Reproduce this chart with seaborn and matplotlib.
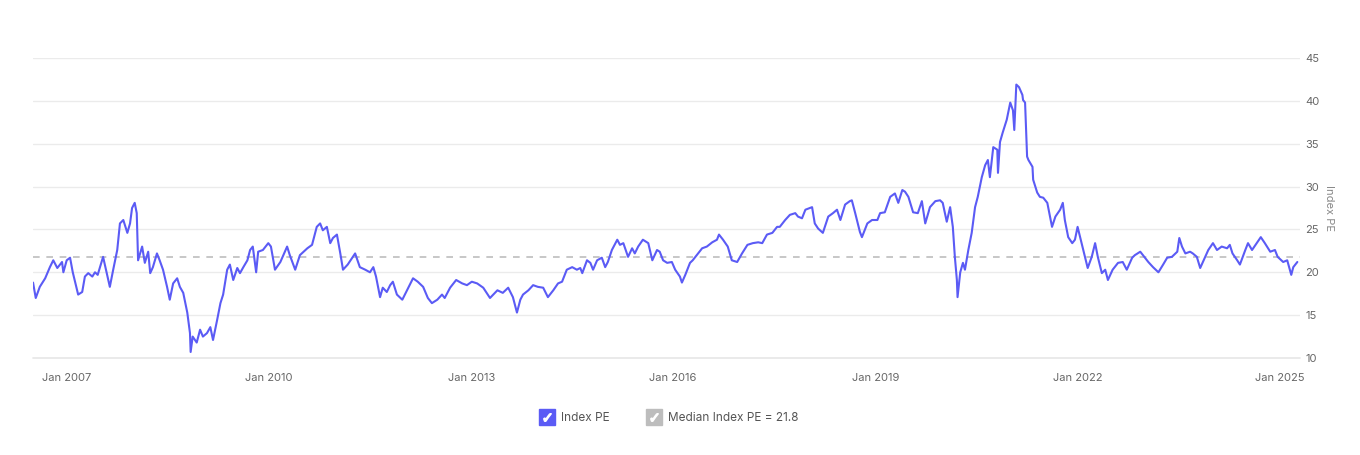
import numpy as np
import pandas as pd
import matplotlib
matplotlib.use('Agg')
import matplotlib.pyplot as plt
import matplotlib.dates as mdates
from matplotlib.lines import Line2D
from matplotlib.legend_handler import HandlerTuple
import seaborn as sns

# decimal year of each reading and the index PE
year_frac = [
    2006.50, 2006.54, 2006.60, 2006.68, 2006.75, 2006.80, 2006.86, 2006.93, 2006.95, 2007.00,
    2007.05, 2007.09, 2007.17, 2007.23, 2007.27, 2007.32, 2007.38, 2007.42, 2007.46, 2007.54,
    2007.60, 2007.64, 2007.69, 2007.75, 2007.79, 2007.84, 2007.90, 2007.94, 2007.97, 2008.01,
    2008.04, 2008.06, 2008.12, 2008.16, 2008.21, 2008.24, 2008.28, 2008.34, 2008.38, 2008.43,
    2008.49, 2008.53, 2008.58, 2008.64, 2008.68, 2008.73, 2008.79, 2008.83, 2008.84, 2008.87,
    2008.93, 2008.98, 2009.02, 2009.08, 2009.13, 2009.17, 2009.23, 2009.28, 2009.32, 2009.38,
    2009.42, 2009.47, 2009.53, 2009.57, 2009.62, 2009.68,
    2009.72, 2009.76, 2009.81, 2009.84, 2009.91, 2009.99, 2010.03, 2010.09, 2010.17, 2010.27,
    2010.31, 2010.39, 2010.46, 2010.57, 2010.64, 2010.67, 2010.71, 2010.76, 2010.80, 2010.86,
    2010.91, 2010.95, 2011.01, 2011.06, 2011.10, 2011.17, 2011.28, 2011.35, 2011.43, 2011.50,
    2011.55, 2011.59, 2011.65, 2011.69, 2011.75, 2011.80, 2011.84, 2011.90, 2011.98, 2012.05,
    2012.14, 2012.21, 2012.29, 2012.36, 2012.42, 2012.50, 2012.57, 2012.61, 2012.69, 2012.78,
    2012.87, 2012.94, 2013.01, 2013.09, 2013.18, 2013.28, 2013.39, 2013.47, 2013.55, 2013.62,
    2013.68,
    2013.73, 2013.77, 2013.85, 2013.92, 2013.99, 2014.07, 2014.14, 2014.22, 2014.29, 2014.35,
    2014.42, 2014.50, 2014.57, 2014.62, 2014.65, 2014.72, 2014.77, 2014.81, 2014.87, 2014.94,
    2014.99, 2015.03, 2015.09, 2015.17, 2015.21, 2015.26, 2015.33, 2015.39, 2015.43, 2015.48,
    2015.55, 2015.63, 2015.69, 2015.76, 2015.80, 2015.85, 2015.91, 2015.98, 2016.03, 2016.10,
    2016.13, 2016.18, 2016.25, 2016.29, 2016.37, 2016.43, 2016.50, 2016.58, 2016.65, 2016.68,
    2016.74, 2016.81, 2016.87, 2016.95, 2017.02, 2017.10, 2017.18, 2017.26, 2017.32, 2017.39,
    2017.47, 2017.54,
    2017.58, 2017.66, 2017.73, 2017.81, 2017.85, 2017.91, 2017.96, 2018.03, 2018.06, 2018.10,
    2018.15, 2018.22, 2018.30, 2018.37, 2018.43, 2018.48, 2018.55, 2018.62, 2018.65, 2018.70,
    2018.77, 2018.80, 2018.88, 2018.95, 2019.03, 2019.07, 2019.14, 2019.22, 2019.29, 2019.34,
    2019.40, 2019.44, 2019.49, 2019.56, 2019.63, 2019.69, 2019.74, 2019.81, 2019.89, 2019.96,
    2020.00,
    2020.06, 2020.11, 2020.15, 2020.18, 2020.21, 2020.22, 2020.26, 2020.30, 2020.33, 2020.38,
    2020.43, 2020.48, 2020.52, 2020.58, 2020.63, 2020.67, 2020.70, 2020.75, 2020.81, 2020.82,
    2020.85, 2020.89, 2020.95, 2021.00, 2021.04, 2021.06, 2021.09, 2021.13, 2021.18, 2021.19,
    2021.22, 2021.25, 2021.27, 2021.33, 2021.34, 2021.40, 2021.44, 2021.49, 2021.55, 2021.59,
    2021.62, 2021.67, 2021.74, 2021.78, 2021.81, 2021.86, 2021.92, 2021.96, 2022.00, 2022.06,
    2022.11, 2022.15, 2022.21, 2022.26, 2022.30,
    2022.36, 2022.41, 2022.45, 2022.52, 2022.60, 2022.67, 2022.73, 2022.81, 2022.85, 2022.93,
    2022.97, 2023.05, 2023.12, 2023.20, 2023.27, 2023.33, 2023.40, 2023.48, 2023.51, 2023.55,
    2023.60, 2023.67, 2023.71, 2023.77, 2023.82, 2023.86, 2023.94, 2024.01, 2024.07, 2024.14,
    2024.22, 2024.26, 2024.30, 2024.37, 2024.41, 2024.49, 2024.53, 2024.59, 2024.66, 2024.72,
    2024.78, 2024.86, 2024.93, 2024.97, 2025.05, 2025.11, 2025.17, 2025.20, 2025.26,
]

index_pe = [
    18.8, 17.0, 18.3, 19.3, 20.6, 21.4, 20.5, 21.2, 20.0, 21.4,
    21.7, 20.0, 17.4, 17.7, 19.5, 19.9, 19.5, 20.0, 19.7, 21.8,
    19.7, 18.3, 20.3, 22.6, 25.7, 26.1, 24.6, 25.7, 27.5, 28.1,
    26.9, 21.4, 23.0, 21.1, 22.4, 19.9, 20.6, 22.2, 21.4, 20.3,
    18.3, 16.8, 18.7, 19.3, 18.3, 17.6, 15.3, 12.9, 10.7, 12.5,
    11.8, 13.3, 12.5, 12.9, 13.6, 12.1, 14.4, 16.4, 17.4, 20.3,
    20.9, 19.1, 20.5, 19.9, 20.6, 21.4,
    22.6, 23.0, 20.0, 22.4, 22.6, 23.4, 23.0, 20.3, 21.2, 23.0,
    22.0, 20.3, 22.0, 22.8, 23.2, 24.1, 25.3, 25.7, 24.9, 25.3,
    23.4, 24.0, 24.4, 22.2, 20.3, 20.9, 22.2, 20.6, 20.3, 20.0,
    20.6, 19.5, 17.1, 18.2, 17.7, 18.5, 18.9, 17.4, 16.8, 17.9,
    19.3, 18.9, 18.3, 17.0, 16.4, 16.8, 17.4, 17.0, 18.2, 19.1,
    18.7, 18.5, 18.9, 18.7, 18.2, 17.0, 17.9, 17.6, 18.2, 17.1,
    15.3,
    16.8, 17.4, 17.9, 18.5, 18.3, 18.2, 17.1, 17.9, 18.7, 18.9,
    20.3, 20.6, 20.3, 20.5, 19.9, 21.4, 21.1, 20.3, 21.4, 21.7,
    20.6, 21.2, 22.6, 23.8, 23.2, 23.4, 21.8, 22.8, 22.2, 23.0,
    23.8, 23.4, 21.4, 22.6, 22.4, 21.4, 21.1, 21.2, 20.3, 19.5,
    18.8, 19.7, 21.1, 21.4, 22.2, 22.8, 23.0, 23.5, 23.8, 24.4,
    23.8, 23.0, 21.4, 21.2, 22.2, 23.2, 23.4, 23.5, 23.4, 24.4,
    24.6, 25.3,
    25.3, 26.1, 26.7, 26.9, 26.5, 26.3, 27.3, 27.5, 27.6, 25.7,
    25.1, 24.6, 26.5, 26.9, 27.3, 26.1, 27.9, 28.3, 28.4, 26.9,
    24.7, 24.1, 25.7, 26.1, 26.1, 26.9, 27.0, 28.8, 29.2, 28.1,
    29.6, 29.4, 28.8, 27.0, 26.9, 28.3, 25.7, 27.6, 28.3, 28.4,
    28.1,
    25.9, 27.6, 25.3, 21.8, 19.1, 17.1, 20.0, 21.1, 20.3, 22.6,
    24.6, 27.6, 28.8, 31.1, 32.5, 33.1, 31.1, 34.6, 34.3, 31.6,
    35.2, 36.3, 37.8, 39.8, 38.9, 36.6, 41.9, 41.6, 40.7, 40.1,
    39.8, 33.5, 33.1, 32.3, 30.8, 29.3, 28.8, 28.7, 28.1, 26.5,
    25.3, 26.5, 27.3, 28.1, 26.1, 24.1, 23.4, 23.8, 25.3, 23.4,
    21.8, 20.5, 21.8, 23.4, 21.8,
    19.9, 20.3, 19.1, 20.3, 21.1, 21.2, 20.3, 21.7, 22.0, 22.4,
    22.0, 21.2, 20.6, 20.0, 20.9, 21.7, 21.8, 22.4, 24.0, 23.0,
    22.2, 22.4, 22.2, 21.8, 20.5, 21.2, 22.6, 23.4, 22.6, 23.0,
    22.8, 23.2, 22.2, 21.4, 20.9, 22.6, 23.4, 22.6, 23.4, 24.1,
    23.4, 22.4, 22.6, 21.8, 21.2, 21.4, 19.7, 20.6, 21.2,
]

median_pe = 21.8
line_color = '#5b5bf5'
median_color = '#bdbdbd'


def to_date(y):
    whole = int(y)
    start = pd.Timestamp(year=whole, month=1, day=1)
    return start + pd.Timedelta(days=(y - whole) * 365.25)


df = pd.DataFrame({'date': [to_date(y) for y in year_frac], 'pe': index_pe})

sns.set_style('white')
plt.rcParams['font.family'] = ['Inter', 'DejaVu Sans']

fig = plt.figure(figsize=(13.6, 4.55), dpi=100)
ax = fig.add_axes([0.0243, 0.2132, 0.9316, 0.6593])

sns.lineplot(data=df, x='date', y='pe', ax=ax, color=line_color, linewidth=1.5)
ax.axhline(median_pe, color=median_color, linestyle=(0, (4, 4)), linewidth=1.2, zorder=1)

ax.set_xlim(to_date(2006.5), to_date(2025.3))
ax.set_ylim(10, 45)
ax.set_yticks([10, 15, 20, 25, 30, 35, 40, 45])
ax.grid(axis='y', color='#ebebeb', linewidth=1)
ax.grid(axis='x', visible=False)
ax.axhline(10, color='#e6e6e6', linewidth=1.2, clip_on=False, zorder=0)
for s in ax.spines.values():
    s.set_visible(False)

ax.xaxis.set_major_locator(mdates.YearLocator(base=3, month=1))
ax.xaxis.set_major_formatter(mdates.DateFormatter('%b %Y'))
ax.tick_params(axis='x', length=5, width=0.8, color='#dddddd', labelsize=8, labelcolor='#666666', pad=6)
ax.yaxis.tick_right()
ax.yaxis.set_label_position('right')
ax.tick_params(axis='y', length=0, labelsize=8, labelcolor='#666666', pad=4)
ax.set_xlabel('')
ax.set_ylabel('Index PE', rotation=270, fontsize=8, color='#888888', labelpad=10)

# checkbox style legend
check_idx = (Line2D([], [], marker='s', markersize=12, linestyle='none', color=line_color),
             Line2D([], [], marker='$\\checkmark$', markersize=5.5, linestyle='none', color='white'))
check_med = (Line2D([], [], marker='s', markersize=12, linestyle='none', color=median_color),
             Line2D([], [], marker='$\\checkmark$', markersize=5.5, linestyle='none', color='white'))
fig.legend([check_idx, check_med], ['Index PE', 'Median Index PE = ' + str(median_pe)],
           handler_map={tuple: HandlerTuple(ndivide=1, pad=0)},
           loc='center', bbox_to_anchor=(0.492, 0.081), ncol=2, frameon=False,
           fontsize=8.5, labelcolor='#555555', handlelength=1.2, handletextpad=0.6,
           columnspacing=3.2)

fig.savefig('out.png', dpi=100)
